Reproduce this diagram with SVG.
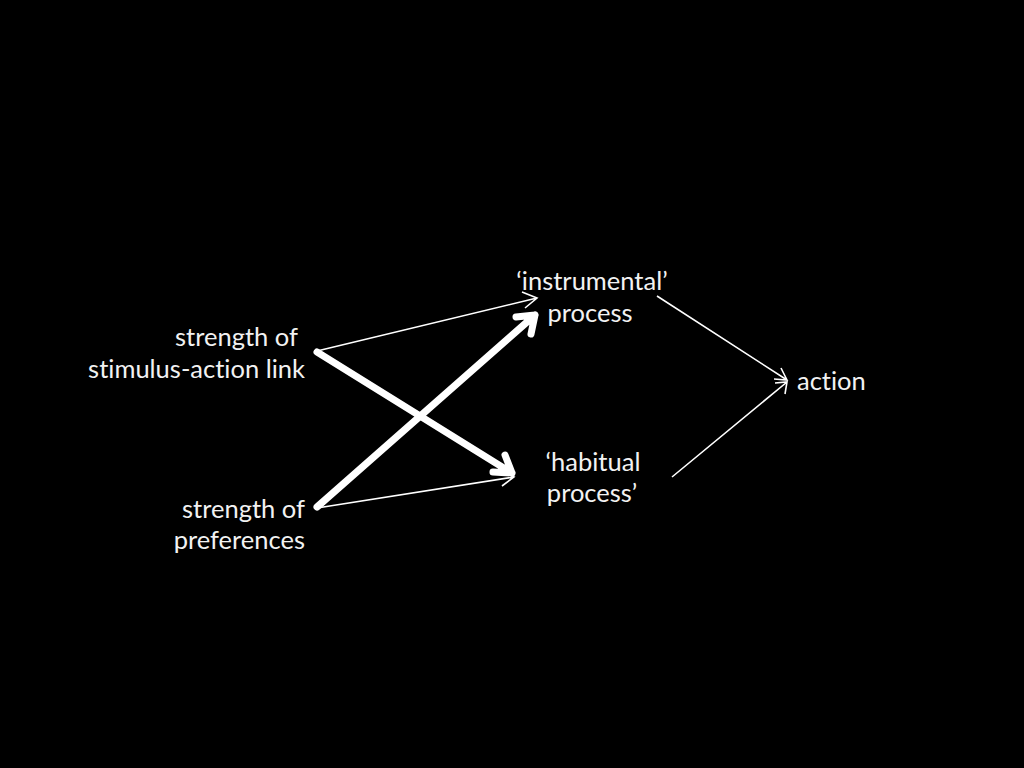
<svg xmlns="http://www.w3.org/2000/svg" width="1024" height="768" viewBox="0 0 1024 768">
<style>
text{font-family:Lato,"Open Sans","Liberation Sans",sans-serif;font-size:25.5px;fill:#f2f2f2;font-variant-ligatures:none}
.thin{stroke:#fff;stroke-width:1.6;fill:none}
.thick{stroke:#fff;stroke-width:7;fill:none;stroke-linecap:round;stroke-linejoin:round}
</style>
<rect width="1024" height="768" fill="#000"/>
<g id="connectors">
<path class="thin" d="M317,351 L537,298 M522,292 L537,298 L525,308"/>
<path class="thin" d="M317,508 L514,477 M500,470 L514,477 L502,486"/>
<path class="thin" d="M657,296 L787,380 M774,379 L787,380 L781,368"/>
<path class="thin" d="M672,477 L787,382 M775,383 L787,382 L785,394"/>
<path class="thick" d="M317,352 L512,473 M493,472 L512,473 L505,455"/>
<path class="thick" d="M317,507 L535,315 M516,317 L535,315 L531,334"/>
</g>
<g id="n1"><text x="298" y="346" text-anchor="end">strength of</text><text x="305" y="378" text-anchor="end">stimulus-action link</text></g>
<g id="n2"><text x="305" y="518" text-anchor="end">strength of</text><text x="305" y="549" text-anchor="end">preferences</text></g>
<g id="n3"><text x="592" y="290" text-anchor="middle">‘instrumental’</text><text x="590" y="322" text-anchor="middle">process</text></g>
<g id="n4"><text x="593" y="471" text-anchor="middle">‘habitual</text><text x="592" y="502" text-anchor="middle">process’</text></g>
<g id="n5"><text x="797" y="390">action</text></g>
</svg>
